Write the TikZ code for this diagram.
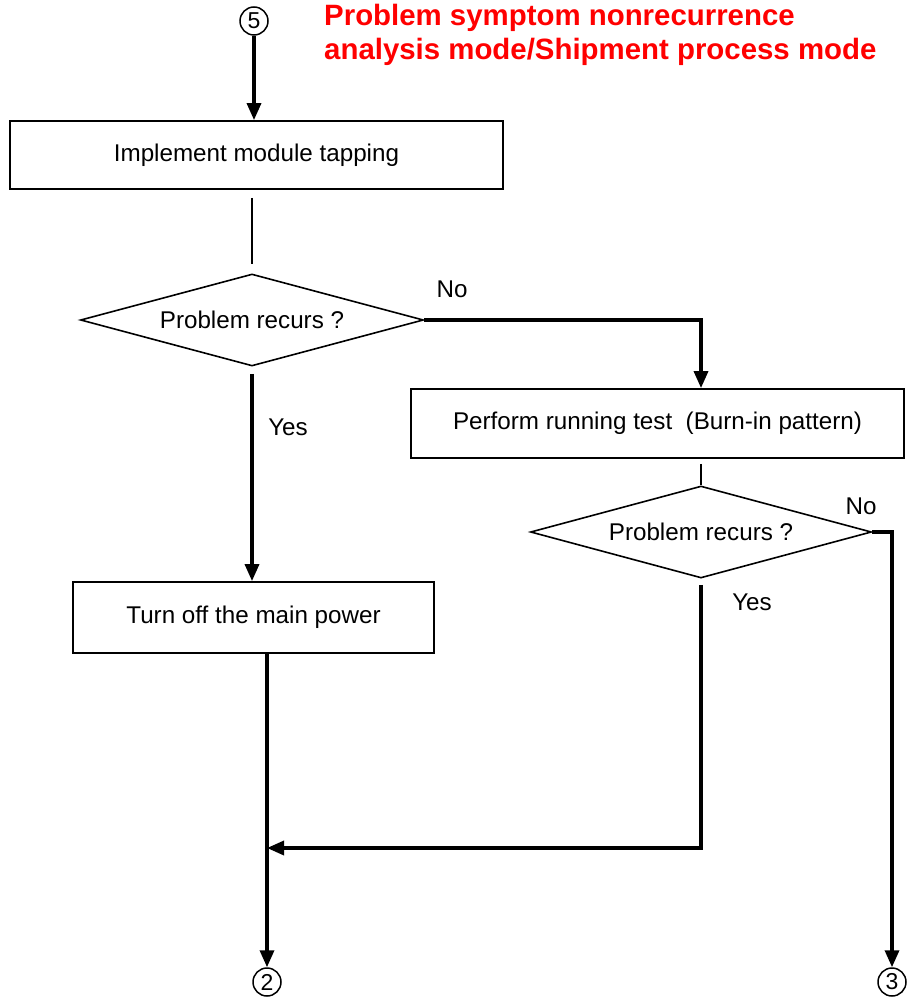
\documentclass[tikz,border=0pt]{standalone}
\usepackage{fontspec}
\setmainfont{Liberation Sans}
\usetikzlibrary{arrows.meta,shapes.geometric}

\tikzset{
  stepbox/.style={draw, line width=1.8pt, inner sep=0pt, font=\fontsize{24.2}{29}\selectfont},
  decision/.style={draw, diamond, aspect=3.7, line width=1.6pt, inner sep=0pt,
    font=\fontsize{24.2}{29}\selectfont},
  connector/.style={draw, circle, line width=1.5pt, inner sep=0pt, minimum size=28pt,
    font=\fontsize{23}{26}\selectfont},
  lbl/.style={font=\fontsize{24.2}{29}\selectfont},
  flow/.style={line width=3.4pt, -{Triangle[length=17pt,width=14pt]}},
  flowplain/.style={line width=3.4pt},
  thin/.style={line width=1.8pt},
  heading/.style={anchor=base west, text=red, inner sep=0pt,
    font=\fontsize{29.4}{36}\selectfont\bfseries}
}

\begin{document}
\begin{tikzpicture}[x=1pt, y=-1pt]
  \useasboundingbox (0,0) rectangle (911,1003);

  % title
  \node[heading] (t1) at (324,25.5) {Problem symptom nonrecurrence};
  \node[heading] (t2) at (324,59.5) {analysis mode/Shipment process mode};

  % off-page connectors
  \node[connector] (c5) at (254,21) {5};
  \node[connector] (c2) at (267,982) {2};
  \node[connector] (c3) at (892,982) {3};

  % process boxes
  \node[stepbox, minimum width=493pt, minimum height=68pt] (b1) at (256.5,155) {Implement module tapping};
  \node[stepbox, minimum width=493pt, minimum height=69pt] (b2) at (657.5,423.5) {Perform running test~~(Burn-in pattern)};
  \node[stepbox, minimum width=361pt, minimum height=71pt] (b3) at (253.5,617.5) {Turn off the main power};

  % decisions
  \node[decision, minimum width=343pt, minimum height=92pt] (d1) at (252,320) {Problem recurs ?};
  \node[decision, minimum width=341pt, minimum height=92pt] (d2) at (701,532) {Problem recurs ?};

  % junction points
  \coordinate (j1) at (c2 |- 0,848);
  \coordinate (k1) at (c3 |- d2.east);

  % branch labels
  \node[lbl] (n1) at (452,289) {No};
  \node[lbl] (y1) at (288,427) {Yes};
  \node[lbl] (n2) at (861,506) {No};
  \node[lbl] (y2) at (752,602) {Yes};

  % connectors (a negative yshift moves a point down the page)
  \draw[flow] (c5.south) -- (c5.south |- b1.north);
  \draw[thin] ([yshift=-8pt]d1.north |- b1.south) -- ([yshift=9pt]d1.north);
  \draw[flow] (d1.east) -| (b2.north -| d2.north);
  \draw[flow] ([yshift=-7pt]d1.south) -- (d1.south |- b3.north);
  \draw[thin] ([yshift=-5pt]d2.north |- b2.south) -- (d2.north);
  \draw[flowplain] (d2.east) -- (k1);
  \draw[flow] ([yshift=1.7pt]k1) -- (c3.north);
  \draw[flow] ([yshift=-6pt]d2.south) |- (j1);
  \draw[flow] (b3.south -| c2) -- (c2.north);
\end{tikzpicture}
\end{document}
